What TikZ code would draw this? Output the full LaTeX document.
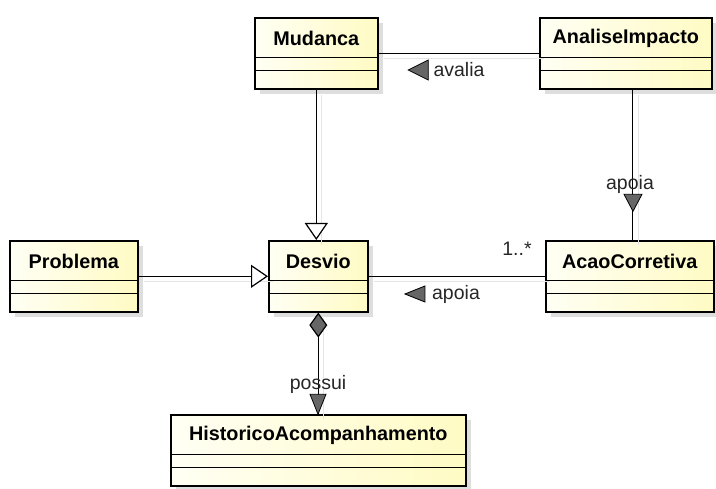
\documentclass[tikz,border=0pt]{standalone}
\usepackage{fontspec}
\setmainfont{Liberation Sans}
\usepackage{xcolor}
\usepackage{tikz}
\usetikzlibrary{arrows.meta,shadows,positioning,calc}

\definecolor{fundoA}{HTML}{FFFFF4}
\definecolor{fundoB}{HTML}{FFFBC4}

\begin{document}
\begin{tikzpicture}[x=1pt,y=-1pt,
    classe/.style={draw=black, line width=1.6pt, left color=fundoA, right color=fundoB,
        minimum height=71pt, inner sep=0pt, anchor=north west,
        drop shadow={shadow xshift=5pt, shadow yshift=-5pt, fill=black!13, opacity=1}},
    titulo/.style={font=\fontsize{19.8}{22}\selectfont\bfseries, inner sep=0pt},
    divisor/.style={line width=1pt},
    rotulo/.style={font=\fontsize{19.5}{22}\selectfont, text=black!85, inner sep=1pt},
    sombralinha/.style={preaction={draw=black!10, arrows=-, transform canvas={shift={(5pt,-5pt)}}}},
    assoc/.style={line width=1.2pt, sombralinha},
    heranca/.style={line width=1.2pt, sombralinha, -{Triangle[open, length=17pt, width=23pt, fill=white]}},
    composicao/.style={line width=1.2pt, sombralinha, {Diamond[length=25pt, width=18pt, fill=black!60]}-},
    leitura/.style={fill=black!60, draw=black, line width=0.8pt}
  ]
    \useasboundingbox (0,0) rectangle (716,489);
    % draw the classes
    \foreach \nome/\x/\y/\w/\texto in {
        mudanca/254/17/123/Mudanca,
        analise/539/17/172/AnaliseImpacto,
        problema/9/240/128/Problema,
        desvio/268/240/99/Desvio,
        acao/545/240/168/AcaoCorretiva,
        historico/170/414/295/HistoricoAcompanhamento}
    {
        \node[classe, minimum width=\w pt] (\nome) at (\x,\y) {};
        \node[titulo] (\nome-titulo) at ([yshift=-21pt]\nome.north) {\texto};
        \draw[divisor] ([yshift=-41pt]\nome.north west) -- ([yshift=-41pt]\nome.north east);
        \draw[divisor] ([yshift=-54pt]\nome.north west) -- ([yshift=-54pt]\nome.north east);
    }
    % draw the generalizations
    \draw[heranca] (mudanca.south) -- (mudanca.south |- desvio.north);
    \draw[heranca] (problema) -- (desvio);
    % draw the associations
    \draw[assoc] (analise) -- (mudanca);
    \draw[assoc] (acao) -- (desvio);
    \draw[assoc] ([xshift=7pt]analise.south) -- ([xshift=7pt]analise.south |- acao.north);
    \draw[composicao] (desvio.south) -- (historico.north);
    % draw the labels
    \node[rotulo] (avalia) at (459,70) {avalia};
    \filldraw[leitura] ([xshift=-4pt]avalia.west) -- ++(0,-10) -- ++(-20,10) -- ++(20,10) -- cycle;
    \node[rotulo] (apoiaH) at (456,294) {apoia};
    \filldraw[leitura] ([xshift=-6pt]apoiaH.west) -- ++(0,-8) -- ++(-20,8) -- ++(20,8) -- cycle;
    \node[rotulo] (multi) at (517,249) {1..*};
    \node[rotulo] (apoiaV) at (630,184) {apoia};
    \filldraw[leitura] ([xshift=3pt]apoiaV.south) -- ++(9,0) -- ++(-9,17) -- ++(-9,-17) -- cycle;
    \node[rotulo] (possui) at (318,384) {possui};
    \filldraw[leitura] (possui.south) -- ++(8,0) -- ++(-8,20) -- ++(-8,-20) -- cycle;
\end{tikzpicture}
\end{document}
